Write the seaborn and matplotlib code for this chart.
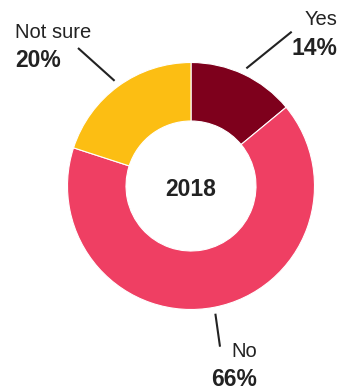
import numpy as np
import matplotlib
matplotlib.use("Agg")
import matplotlib.pyplot as plt
import seaborn as sns

# Survey answers for 2018
categories = ["Yes", "No", "Not sure"]
shares = [14, 66, 20]
year_label = "2018"

sns.set_style("white")
plt.rcParams["font.family"] = ["Liberation Sans", "DejaVu Sans"]

palette = sns.color_palette(["#7E001C", "#EF3F63", "#FCBE13"])
text_color = "#222222"

W, H, DPI = 340, 390, 100
cx, cy = 191, 186          # donut centre in pixels (from top-left)
r_out, r_in = 123.5, 65

fig = plt.figure(figsize=(W / DPI, H / DPI), dpi=DPI)
ax = fig.add_axes([0, 0, 1, 1])

wedges, _ = ax.pie(
    shares,
    colors=palette,
    startangle=90,
    counterclock=False,
    radius=r_out,
    wedgeprops=dict(width=r_out - r_in, edgecolor="white", linewidth=0.8),
)

# pie() resets the limits, so fix the pixel-based frame afterwards
ax.set_xlim(-cx, W - cx)
ax.set_ylim(-(H - cy), cy)
ax.set_aspect("equal")
ax.axis("off")

ax.text(0, -4, year_label, ha="center", va="center", fontsize=16.5,
        fontweight="bold", color=text_color)

# label layout: leader end offset, text anchor, alignment
layout = {
    "Yes":      dict(end=(100.7, 154.3), xy=(146, 161), ha="right", gap=30),
    "No":       dict(end=(29, -160.7),  xy=(66, -170.7), ha="right", gap=29.3),
    "Not sure": dict(end=(-113, 138),   xy=(-176, 147.7), ha="left", gap=28.4),
}

for w, name, val in zip(wedges, categories, shares):
    mid = np.deg2rad((w.theta1 + w.theta2) / 2)
    x0, y0 = 130 * np.cos(mid), 130 * np.sin(mid)
    cfg = layout[name]
    ax.plot([x0, cfg["end"][0]], [y0, cfg["end"][1]], color=text_color,
            lw=1.5, solid_capstyle="butt")
    tx, ty = cfg["xy"]
    ax.text(tx, ty, name, ha=cfg["ha"], va="baseline", fontsize=14.5,
            color=text_color)
    ax.text(tx, ty - cfg["gap"], f"{val}%", ha=cfg["ha"], va="baseline",
            fontsize=16.5, fontweight="bold", color=text_color)

fig.savefig("out.png", dpi=DPI, facecolor="white")
